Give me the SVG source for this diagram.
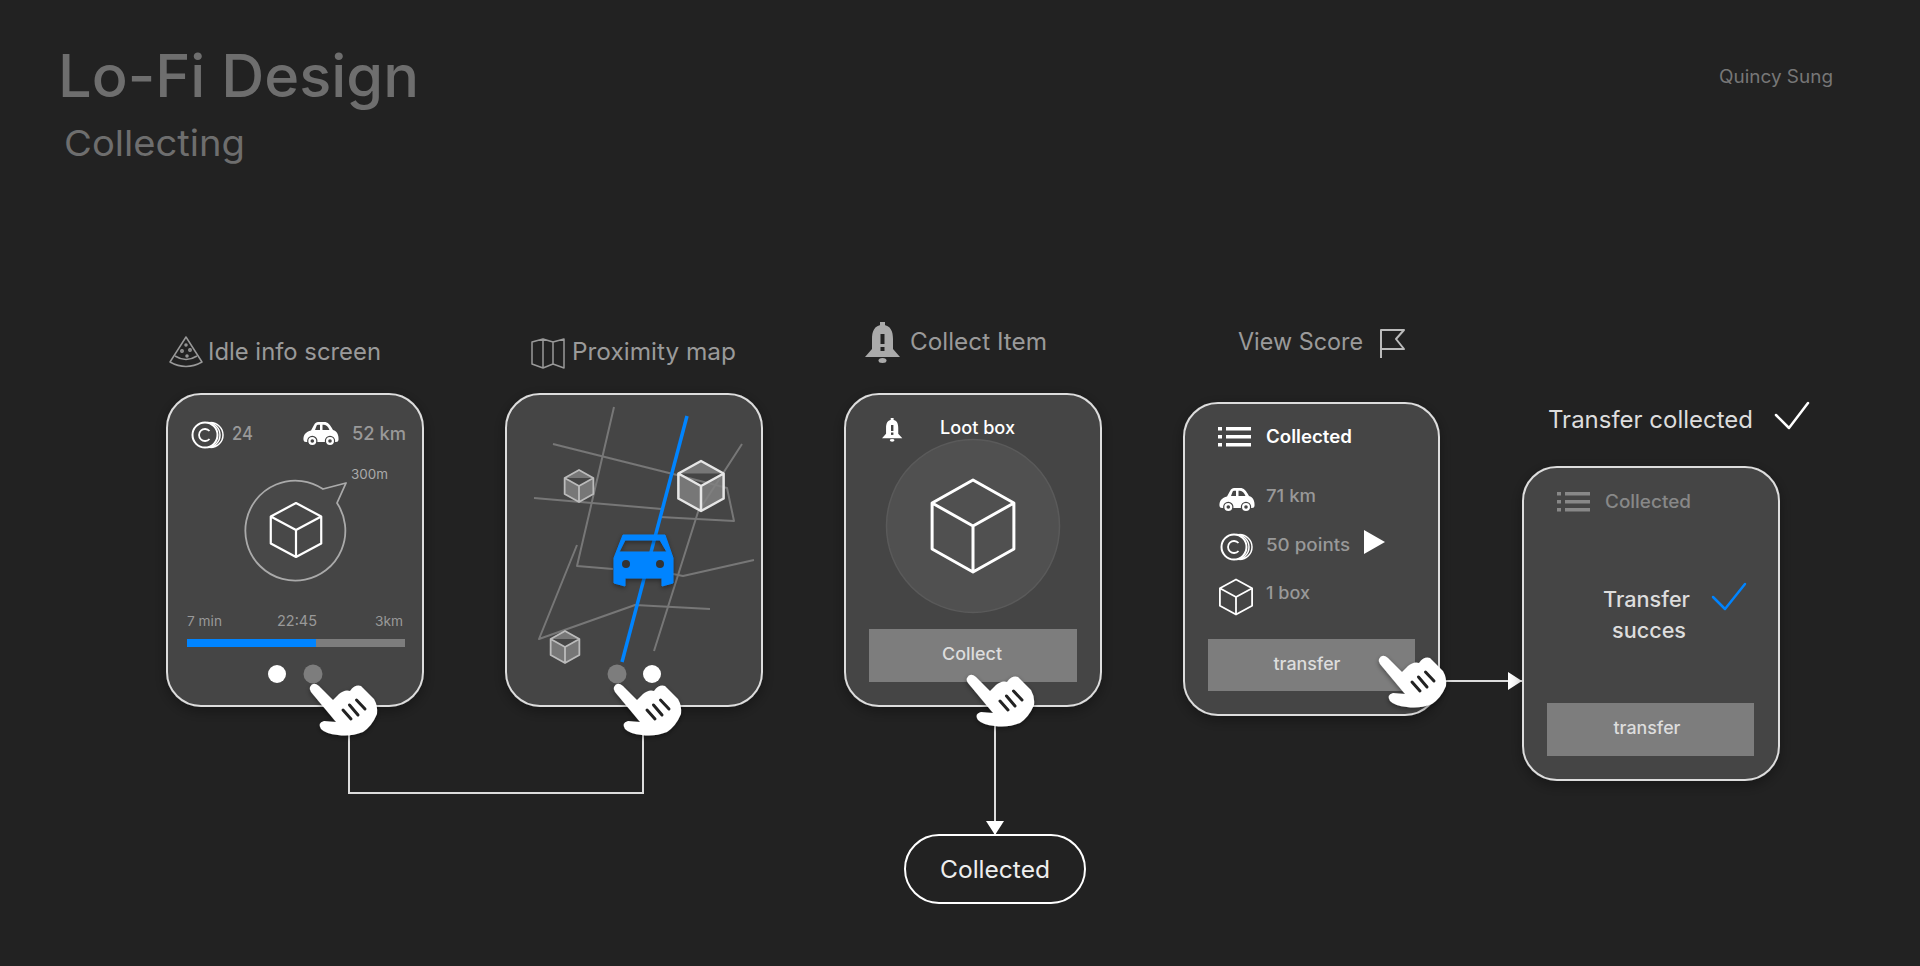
<svg xmlns="http://www.w3.org/2000/svg" width="1920" height="966" viewBox="0 0 1920 966">
<style>
text{font-family:Inter,"Open Sans","Liberation Sans",sans-serif;}
.card{fill:#444;stroke:#ddd;stroke-width:2;filter:url(#sh);}
.lab{font-size:24px;fill:#9a9a9a;}
.btn{fill:#7d7d7d;}
.btxt{font-size:17px;font-weight:500;fill:#ddd;text-anchor:middle;}
.g{fill:#999;font-weight:500;}
.road{fill:none;stroke:#777;stroke-width:2;stroke-linejoin:round;}
.conn{fill:none;stroke:#ddd;stroke-width:2;}
.cube{fill:none;stroke:#fff;stroke-linejoin:round;}
.mcube{fill:#808080;fill-opacity:.85;stroke-linejoin:round;}
</style>
<defs>
<filter id="sh" x="-20%" y="-20%" width="140%" height="140%"><feDropShadow dx="0" dy="4" stdDeviation="7" flood-color="#000" flood-opacity=".35"/></filter>
<filter id="hs" x="-30%" y="-30%" width="160%" height="160%"><feDropShadow dx="0" dy="2" stdDeviation="2.500" flood-color="#000" flood-opacity=".4"/></filter>
<marker id="ah" markerUnits="userSpaceOnUse" markerWidth="16" markerHeight="20" refX="15" refY="10" orient="auto"><path d="M1,1 L15,10 L1,19 Z" fill="#fff"/></marker>
<g id="hand">
<path filter="url(#hs)" fill="#fff" d="M10,27 Q13,21 19,26 L33,40 L39,34 Q45,29 50,31 Q55,24 61,26 L74,39 Q78,46 77,54 Q72,66 63,72 Q50,77 38,75 Q26,74 21,69 Q17,63 24,61 L36,62 L26,50 L11,32 Q9,29 10,27 Z"/>
<path d="M43,50 L51,59 M49.500,45 L58,55 M56.500,40 L65,49" stroke="#222" stroke-width="3" stroke-linecap="round" fill="none"/>
</g>
<path id="cubeP" vector-effect="non-scaling-stroke" d="M0,-100 L87,-50 L87,50 L0,100 L-87,50 L-87,-50 Z M-87,-50 L0,0 L87,-50 M0,0 V100"/>
<path id="cubeT" d="M0,-100 L87,-50 L0,0 L-87,-50 Z" fill="#5e5e5e"/>
<g id="coin" fill="none" stroke="#fff">
<circle r="12.500" stroke-width="2"/>
<path d="M2.500,-12.500 A12.500,12.500 0 0 1 2.500,12.500 M5.500,-12.500 A12.500,12.500 0 0 1 5.500,12.500" stroke-width="1.500"/>
<path d="M4.500,-4 A6,6 0 1 0 4.500,4" stroke-width="1.800"/>
</g>
<g id="car">
<path fill="#fff" fill-rule="evenodd" d="M-17.500,6 C-18,1 -15,-2.500 -10,-3.500 L-7,-9 C-6,-11.500 -4,-12 -1,-12 H3 C7,-12 9,-9.500 12,-4 C16,-3 18,1 17.500,6 Q17.500,8 15,8 H-15 Q-17.500,8 -17.500,6 Z M-6,-4 H-1 V-9.200 H-2.500 C-3.500,-9.200 -4,-9 -4.500,-8 Z M1.500,-4 H8.500 C7,-7 5.500,-9.200 3,-9.200 H1.500 Z"/>
<circle cx="-8.700" cy="7" r="4.600" fill="#fff" stroke="#444" stroke-width="1.200"/><circle cx="9" cy="7" r="4.600" fill="#fff" stroke="#444" stroke-width="1.200"/>
<circle cx="-8.700" cy="7" r="1.800" fill="#444"/><circle cx="9" cy="7" r="1.800" fill="#444"/>
</g>
<g id="bell">
<rect x="15" y="0" width="5" height="6"/>
<path d="M17.500,3 C26,3 28,10 28,17 V27 L35,35 H0 L7,27 V17 C7,10 9,3 17.500,3 Z"/>
<ellipse cx="17.500" cy="38.500" rx="4" ry="2.500"/>
</g>
<g id="list">
<rect x="0" y="0" width="4" height="3.500"/><rect x="8" y="0" width="25" height="3.500"/>
<rect x="0" y="8" width="4" height="3.500"/><rect x="8" y="8" width="25" height="3.500"/>
<rect x="0" y="16" width="4" height="3.500"/><rect x="8" y="16" width="25" height="3.500"/>
</g>
</defs>
<rect width="1920" height="966" fill="#222"/>

<g id="title">
<text x="58" y="97" font-size="59" font-weight="500" fill="#6e6e6e" textLength="361" lengthAdjust="spacingAndGlyphs">Lo-Fi Design</text>
<text x="64" y="156" font-size="36" fill="#6e6e6e" textLength="181" lengthAdjust="spacingAndGlyphs">Collecting</text>
<text x="1719" y="83" font-size="18" fill="#777" textLength="114" lengthAdjust="spacingAndGlyphs">Quincy Sung</text>
</g>

<g id="connectors">
<path class="conn" d="M349,725 V793 H643 V725"/>
<path class="conn" d="M995,720 V835" marker-end="url(#ah)"/>
<path class="conn" d="M1440,681 H1522" marker-end="url(#ah)"/>
</g>

<g id="idle-info-screen">
<text class="lab" x="208" y="360" textLength="173" lengthAdjust="spacingAndGlyphs">Idle info screen</text>
<g fill="none" stroke="#999" stroke-width="1.500" stroke-linejoin="round">
<path d="M186,337 L170,362 Q186,371 202,362 Z"/>
<path d="M175,356 Q186,363 197,356"/>
<circle cx="182" cy="351" r="1.200"/><circle cx="190" cy="350" r="1.200"/><circle cx="186" cy="345" r="1"/><circle cx="187" cy="356" r="1"/>
</g>
<rect class="card" x="167" y="394" width="256" height="312" rx="34"/>
<use href="#coin" x="205" y="435"/>
<text class="g" x="232" y="440" font-size="18" textLength="21" lengthAdjust="spacingAndGlyphs">24</text>
<use href="#car" x="321" y="434"/>
<text class="g" x="352" y="440" font-size="18" textLength="54" lengthAdjust="spacingAndGlyphs">52 km</text>
<text x="351" y="479" font-size="13" fill="#aaa" textLength="37" lengthAdjust="spacingAndGlyphs">300m</text>
<path d="M323,489 L346,483 L337,503 A50,50 0 1 1 323,489 Z" fill="#484848" stroke="#aaa" stroke-width="1.800" stroke-linejoin="round"/>
<use href="#cubeP" class="cube" stroke-width="2.200" transform="translate(296,530) scale(.29,.27)"/>
<text x="187" y="626" font-size="13.500" fill="#999" textLength="35" lengthAdjust="spacingAndGlyphs">7 min</text>
<text x="277" y="626" font-size="15" fill="#999" textLength="40" lengthAdjust="spacingAndGlyphs">22:45</text>
<text x="375" y="626" font-size="13.500" fill="#999" textLength="28" lengthAdjust="spacingAndGlyphs">3km</text>
<rect x="187" y="639" width="218" height="8" fill="#7d7d7d"/>
<rect x="187" y="639" width="129" height="8" fill="#0084ff"/>
<circle cx="277" cy="674" r="9" fill="#fff"/>
<circle cx="313" cy="674" r="9.500" fill="#7d7d7d"/>
<use href="#hand" x="300" y="660"/>
</g>

<g id="proximity-map">
<text class="lab" x="572" y="360" textLength="164" lengthAdjust="spacingAndGlyphs">Proximity map</text>
<path d="M532,342 L543,339 L553,342 L564,339 V368 L553,364 L543,368 L532,364 Z M543,339 V368 M553,342 V364" fill="none" stroke="#999" stroke-width="1.500" stroke-linejoin="round"/>
<rect class="card" x="506" y="394" width="256" height="312" rx="34"/>
<path class="road" d="M614,407 L577,566 L613,569"/>
<path class="road" d="M553,444 L677,475 L727,488 L734,521 L660,517"/>
<path class="road" d="M534,498 L662,509"/>
<path class="road" d="M742,444 L698,512 L654,651"/>
<path class="road" d="M673,574 L683,576 L754,560"/>
<path class="road" d="M577,545 L539,639 L635,605 L710,609"/>
<path d="M687,416 L622,662" fill="none" stroke="#0084ff" stroke-width="3.500"/>
<use href="#cubeP" class="mcube" stroke="#e6e6e6" stroke-width="2.500" transform="translate(701,486) scale(.26,.25)"/>
<use href="#cubeP" class="mcube" stroke="#bbb" stroke-width="1.800" transform="translate(579,486) scale(.165,.16)"/>
<use href="#cubeP" class="mcube" stroke="#bbb" stroke-width="1.800" transform="translate(565,647) scale(.165,.16)"/>
<g filter="url(#hs)">
<path fill="#0084ff" fill-rule="evenodd" stroke="#0084ff" stroke-linejoin="round" d="M623,535 H665 L673,558 V583 L662,586 V578 H625 V586 L614,583 V558 Z M625,540 L619,552 H667 L660,540 Z"/>
</g>
<circle cx="626" cy="564" r="4" fill="#333"/><circle cx="660" cy="564" r="4" fill="#333"/>
<circle cx="617" cy="674" r="9.500" fill="#7d7d7d"/>
<circle cx="652" cy="674" r="9" fill="#fff"/>
<use href="#hand" x="604" y="660"/>
</g>

<g id="collect-item">
<text class="lab" x="910" y="350" textLength="137" lengthAdjust="spacingAndGlyphs">Collect Item</text>
<use href="#bell" x="865" y="322" fill="#aaa"/>
<rect x="880.500" y="334" width="4" height="10" fill="#222"/><rect x="880.500" y="347" width="4" height="4" fill="#222"/>
<rect class="card" x="845" y="394" width="256" height="312" rx="34"/>
<use href="#bell" transform="translate(882,418) scale(.58)" fill="#fff"/>
<rect x="891" y="425" width="2.400" height="6" fill="#444"/><rect x="891" y="432.500" width="2.400" height="2.400" fill="#444"/>
<text x="940" y="434" font-size="18" font-weight="500" fill="#fff" textLength="75" lengthAdjust="spacingAndGlyphs">Loot box</text>
<circle cx="973" cy="526" r="86.500" fill="#505050" stroke="#5a5a5a" stroke-width="1.500"/>
<use href="#cubeP" class="cube" stroke-width="3" transform="translate(973,526) scale(.47,.46)"/>
<rect class="btn" x="869" y="629" width="208" height="53"/>
<text class="btxt" x="972" y="660" textLength="60" lengthAdjust="spacingAndGlyphs">Collect</text>
<use href="#hand" x="957" y="651"/>
</g>

<g id="view-score">
<text class="lab" x="1238" y="350" textLength="125" lengthAdjust="spacingAndGlyphs">View Score</text>
<path d="M1381,358 V330 H1404 L1396,339 L1404,349 H1381" fill="none" stroke="#bbb" stroke-width="2" stroke-linejoin="round"/>
<rect class="card" x="1184" y="403" width="255" height="312" rx="34"/>
<use href="#list" x="1218" y="427" fill="#fff"/>
<text x="1266" y="443" font-size="18" font-weight="600" fill="#fff" textLength="86" lengthAdjust="spacingAndGlyphs">Collected</text>
<use href="#car" x="1237" y="500"/>
<text class="g" x="1266" y="502" font-size="17" textLength="50" lengthAdjust="spacingAndGlyphs">71 km</text>
<use href="#coin" x="1234" y="547"/>
<text class="g" x="1266" y="551" font-size="17" textLength="84" lengthAdjust="spacingAndGlyphs">50 points</text>
<path d="M1364,530 L1385,542 L1364,554 Z" fill="#fff"/>
<use href="#cubeP" class="cube" stroke-width="1.800" transform="translate(1236,597) scale(.185,.175)"/>
<text class="g" x="1266" y="599" font-size="17" textLength="44" lengthAdjust="spacingAndGlyphs">1 box</text>
<rect class="btn" x="1208" y="639" width="207" height="52"/>
<text class="btxt" x="1307" y="670" textLength="67" lengthAdjust="spacingAndGlyphs">transfer</text>
<use href="#hand" x="1369" y="632"/>
</g>

<g id="transfer-collected">
<text x="1548" y="428" font-size="24" fill="#ddd" textLength="205" lengthAdjust="spacingAndGlyphs">Transfer collected</text>
<path d="M1776,415 L1789,428 L1808,403" fill="none" stroke="#fff" stroke-width="2.500" stroke-linecap="round" stroke-linejoin="round"/>
<rect class="card" x="1523" y="467" width="256" height="313" rx="34"/>
<use href="#list" x="1557" y="492" fill="#888"/>
<text x="1605" y="508" font-size="18" font-weight="500" fill="#888" textLength="86" lengthAdjust="spacingAndGlyphs">Collected</text>
<text x="1603" y="607" font-size="21" font-weight="500" fill="#ddd" textLength="87" lengthAdjust="spacingAndGlyphs">Transfer</text>
<text x="1612" y="638" font-size="21" font-weight="500" fill="#ddd" textLength="74" lengthAdjust="spacingAndGlyphs">succes</text>
<path d="M1713,597 L1725,609 L1745,584" fill="none" stroke="#0084ff" stroke-width="2.500" stroke-linecap="round" stroke-linejoin="round"/>
<rect class="btn" x="1547" y="703" width="207" height="53"/>
<text class="btxt" x="1647" y="734" textLength="67" lengthAdjust="spacingAndGlyphs">transfer</text>
</g>

<g id="collected">
<rect x="905" y="835" width="180" height="68" rx="34" fill="#222" stroke="#fff" stroke-width="2"/>
<text x="995" y="878" font-size="24" fill="#eee" font-weight="400" text-anchor="middle" textLength="110" lengthAdjust="spacingAndGlyphs">Collected</text>
</g>
</svg>
